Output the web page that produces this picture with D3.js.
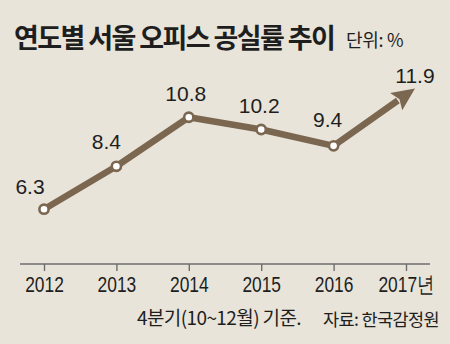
<!DOCTYPE html>
<html>
<head>
<meta charset="utf-8">
<script src="https://cdn.jsdelivr.net/npm/d3@7"></script>
<style>
  html, body { margin: 0; padding: 0; background: #e8e4d9; }
  svg { display: block; }
  .kr { font-family: "Noto Sans CJK KR", "Noto Sans", sans-serif; }
  .num { font-family: "Liberation Sans", Arial, sans-serif; }
</style>
</head>
<body>
<svg id="chart" width="450" height="344"></svg>
<script>
// Seoul office vacancy rate by year (Q4), %
const years = ["2012", "2013", "2014", "2015", "2016", "2017"];
const rates = [6.3, 8.4, 10.8, 10.2, 9.4, 11.9];
const tickLabels = ["2012", "2013", "2014", "2015", "2016", "2017년"];
const titleText = "연도별 서울 오피스 공실률 추이";
const unitText = "단위: %";
const noteText = "4분기(10~12월) 기준.";
const sourceText = "자료: 한국감정원";

const W = 450, H = 344;
const brown = "#7b6650";
const ink = "#1e1e1e";

const svg = d3.select("#chart");
svg.append("rect").attr("width", W).attr("height", H).attr("fill", "#e8e4d9");

const x = d3.scalePoint().domain(years).range([44, 406]).padding(0);
const y = d3.scaleLinear().domain([0, 12]).range([338, 92.7]);

// Title and unit
svg.append("text").attr("class", "kr")
  .attr("x", 14).attr("y", 48)
  .attr("font-size", 27).attr("font-weight", 700)
  .attr("letter-spacing", -1.6)
  .attr("fill", ink)
  .text(titleText);
svg.append("text").attr("class", "kr")
  .attr("x", 346).attr("y", 47)
  .attr("font-size", 18)
  .attr("letter-spacing", -0.3)
  .attr("fill", ink)
  .text(unitText);

// X axis
const axisY = 264;
svg.append("line")
  .attr("x1", 20).attr("x2", 430)
  .attr("y1", axisY).attr("y2", axisY)
  .attr("stroke", "#6e6e6e").attr("stroke-width", 1.6);

const axis = d3.axisBottom(x)
  .tickSize(7)
  .tickFormat((d, i) => tickLabels[i]);
const gAxis = svg.append("g").attr("transform", `translate(0,${axisY})`).call(axis);
gAxis.select(".domain").remove();
gAxis.selectAll(".tick line").attr("stroke", "#6e6e6e").attr("stroke-width", 1.4);
gAxis.selectAll(".tick text")
  .attr("y", 0).attr("dy", 0)
  .attr("fill", ink)
  .attr("font-size", 22)
  .attr("font-family", "'Liberation Sans', Arial, sans-serif")
  .attr("text-anchor", "middle")
  .attr("transform", "translate(0,28) scale(0.79,1)");

// Line points
const pts = years.map((yr, i) => ({ yr, v: rates[i], px: x(yr), py: y(rates[i]) }));
const last = pts[pts.length - 1];
const prev = pts[pts.length - 2];
const dx = last.px - prev.px, dy = last.py - prev.py;
const len = Math.hypot(dx, dy);
const ux = dx / len, uy = dy / len;
const tip = [last.px + ux * 11, last.py + uy * 11];
const headLen = 23, headHalf = 10.5;
const base = [tip[0] - ux * headLen, tip[1] - uy * headLen];

const lineData = pts.slice(0, -1).map(p => [p.px, p.py]).concat([[base[0] + ux * 2, base[1] + uy * 2]]);
svg.append("path")
  .attr("d", d3.line()(lineData))
  .attr("fill", "none")
  .attr("stroke", brown)
  .attr("stroke-width", 6.5)
  .attr("stroke-linejoin", "round");

// Arrowhead
svg.append("path")
  .attr("d", d3.line()([
    tip,
    [base[0] - uy * headHalf, base[1] + ux * headHalf],
    [base[0] + ux * 4, base[1] + uy * 4],
    [base[0] + uy * headHalf, base[1] - ux * headHalf]
  ]) + "Z")
  .attr("fill", brown);

// Markers
svg.selectAll("circle.marker")
  .data(pts.slice(0, -1))
  .join("circle")
  .attr("class", "marker")
  .attr("cx", d => d.px).attr("cy", d => d.py)
  .attr("r", 4.6)
  .attr("fill", "#fff")
  .attr("stroke", brown)
  .attr("stroke-width", 2.6);

// Value labels
const nudge = [[-14, -15.5], [-10, -17.5], [-3, -16.5], [-2, -16], [-6, -18.5], [0, -5]];
svg.selectAll("text.val")
  .data(pts)
  .join("text")
  .attr("class", "val num")
  .attr("x", (d, i) => (i === pts.length - 1 ? tip[0] : d.px) + nudge[i][0])
  .attr("y", (d, i) => (i === pts.length - 1 ? tip[1] : d.py) + nudge[i][1])
  .attr("text-anchor", "middle")
  .attr("font-size", 21)
  .attr("fill", ink)
  .text(d => d.v.toFixed(1));

// Footnote and source
svg.append("text").attr("class", "kr")
  .attr("x", 137).attr("y", 325)
  .attr("font-size", 19)
  .attr("letter-spacing", -0.6)
  .attr("fill", ink)
  .text(noteText);
svg.append("text").attr("class", "kr")
  .attr("x", 323).attr("y", 326)
  .attr("font-size", 17.5)
  .attr("letter-spacing", -0.6)
  .attr("fill", ink)
  .text(sourceText);
</script>
</body>
</html>
